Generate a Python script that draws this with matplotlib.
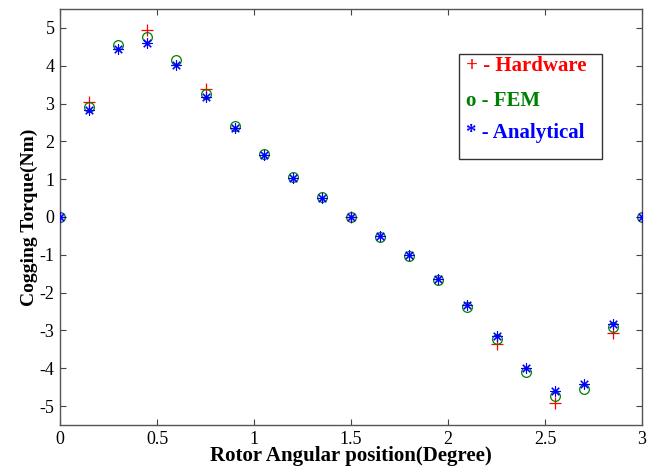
import numpy as np
import matplotlib.pyplot as plt

# rotor position (degree)
angle = [0.0, 0.15, 0.3, 0.45, 0.6, 0.75, 0.9, 1.05, 1.2, 1.35, 1.5,
         1.65, 1.8, 1.95, 2.1, 2.25, 2.4, 2.55, 2.7, 2.85, 3.0]

# FEM and analytical cogging torque (Nm)
fem = [0.0, 2.92, 4.55, 4.75, 4.14, 3.25, 2.41, 1.67, 1.06, 0.52, 0.0,
       -0.52, -1.04, -1.66, -2.38, -3.22, -4.09, -4.74, -4.54, -2.92, 0.0]
analytical = [0.0, 2.83, 4.44, 4.61, 4.01, 3.17, 2.35, 1.64, 1.03, 0.50, 0.0,
              -0.50, -1.01, -1.63, -2.32, -3.14, -3.99, -4.59, -4.41, -2.84, 0.0]

# hardware measurements (fewer points)
hw_angle = [0.0, 0.15, 0.45, 0.75, 1.5, 2.25, 2.55, 2.85, 3.0]
hw_torque = [0.0, 3.05, 4.95, 3.38, 0.0, -3.37, -4.93, -3.06, 0.0]


def main():
    plt.rcParams["font.family"] = ["Liberation Serif", "DejaVu Serif"]
    plt.rcParams["axes.unicode_minus"] = False

    fig = plt.figure(figsize=(6.57, 4.73), dpi=100)
    ax = fig.add_axes([0.0913, 0.1015, 0.886, 0.8795])

    ax.plot(hw_angle, hw_torque, "+", color="red", markersize=9,
            markeredgewidth=0.9, zorder=3)
    ax.plot(angle, fem, "o", color="green", markerfacecolor="none",
            markersize=7, markeredgewidth=0.9, zorder=3)
    ax.plot(angle, analytical, linestyle="none", marker=(8, 2, 0),
            color="blue", markersize=7.5, markeredgewidth=0.8, zorder=4)

    ax.set_xlim(0, 3)
    ax.set_ylim(-5.5, 5.5)
    ax.set_xticks([0, 0.5, 1, 1.5, 2, 2.5, 3])
    ax.set_xticklabels(["0", "0.5", "1", "1.5", "2", "2.5", "3"])
    ax.set_yticks(range(-5, 6))
    ax.tick_params(direction="in", top=True, right=True, length=4,
                   width=0.8, labelsize=13, color="#444444", pad=4)
    for s in ax.spines.values():
        s.set_color("#555555")
        s.set_linewidth(1.0)

    ax.set_xlabel("Rotor Angular position(Degree)", fontsize=15,
                  fontweight="bold", labelpad=-1)
    ax.set_ylabel("Cogging Torque(Nm)", fontsize=14, fontweight="bold",
                  labelpad=1)

    # hand-drawn legend box as in the original
    tx = 0.698
    ax.text(tx, 0.864, "+ - Hardware", transform=ax.transAxes,
            color="red", fontsize=15, fontweight="bold", va="center")
    ax.text(tx, 0.78, "o - FEM", transform=ax.transAxes,
            color="green", fontsize=15, fontweight="bold", va="center")
    ax.text(tx, 0.703, "* - Analytical", transform=ax.transAxes,
            color="blue", fontsize=15, fontweight="bold", va="center")
    box = plt.Rectangle((0.686, 0.639), 0.245, 0.253, transform=ax.transAxes,
                        fill=False, edgecolor="#333333", linewidth=1.0)
    ax.add_patch(box)

    fig.savefig("out.png", dpi=100)
    plt.close(fig)


if __name__ == "__main__":
    main()
